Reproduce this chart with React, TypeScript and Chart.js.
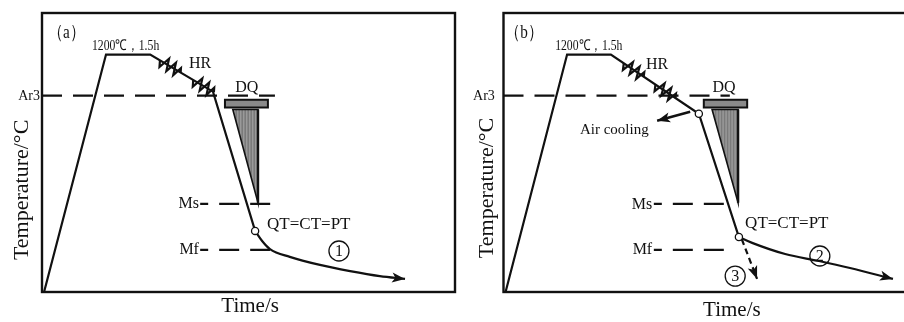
import React, { useEffect, useRef } from "react";
import { Chart, registerables } from "chart.js";
Chart.register(...registerables);

type P = { x: number; y: number };

const FONT = '"Liberation Serif", "Times New Roman", serif';
const INK = "#111";

// ---------- Panel (a) data ----------
const aProcess: P[] = [
  { x: 0.5, y: 0 }, { x: 15.5, y: 85.1 }, { x: 26.2, y: 85.1 }, { x: 41.4, y: 71.8 }, { x: 51.6, y: 21.9 },
];
const aResistorT = [0.32, 0.85];
const aCooling1: P[] = [
  { x: 51.6, y: 21.9 }, { x: 53.3, y: 18.3 }, { x: 55.2, y: 15.4 }, { x: 60.0, y: 12.6 },
  { x: 67.3, y: 9.7 }, { x: 74.6, y: 7.5 }, { x: 81.8, y: 5.7 }, { x: 87.9, y: 4.7 },
];
const aAr3: P[] = [{ x: 0, y: 70.4 }, { x: 56.4, y: 70.4 }];
const aMs: P[] = [{ x: 38.3, y: 31.6 }, { x: 55.7, y: 31.6 }];
const aMf: P[] = [{ x: 38.3, y: 15.1 }, { x: 55.2, y: 15.1 }];
const aCap: P[] = [{ x: 44.3, y: 66.1 }, { x: 54.7, y: 68.9 }];
const aWedge: P[] = [{ x: 46.2, y: 65.4 }, { x: 52.3, y: 65.4 }, { x: 52.3, y: 32.0 }];
const aMarkers: P[] = [{ x: 51.6, y: 21.9 }];

// ---------- Panel (b) data ----------
const bProcess: P[] = [
  { x: 0.5, y: 0 }, { x: 15.4, y: 85.1 }, { x: 26.0, y: 85.1 }, { x: 47.3, y: 63.9 }, { x: 57.0, y: 19.7 },
];
const bResistorT = [0.26, 0.62];
const bCooling2: P[] = [
  { x: 57.0, y: 19.7 }, { x: 60.2, y: 17.6 }, { x: 68.2, y: 13.6 }, { x: 76.4, y: 11.1 },
  { x: 83.9, y: 8.6 }, { x: 94.3, y: 4.7 },
];
const bCooling3: P[] = [{ x: 57.7, y: 18.9 }, { x: 61.4, y: 4.7 }];
const bAr3: P[] = [{ x: 0, y: 70.4 }, { x: 54.8, y: 70.4 }];
const bMs: P[] = [{ x: 36.4, y: 31.6 }, { x: 55.8, y: 31.6 }];
const bMf: P[] = [{ x: 36.4, y: 15.1 }, { x: 55.4, y: 15.1 }];
const bCap: P[] = [{ x: 48.5, y: 66.1 }, { x: 59.0, y: 68.9 }];
const bWedge: P[] = [{ x: 50.5, y: 65.4 }, { x: 56.8, y: 65.4 }, { x: 56.8, y: 32.0 }];
const bAirArrow: P[] = [{ x: 45.2, y: 64.6 }, { x: 37.2, y: 61.4 }];
const bMarkers: P[] = [{ x: 47.3, y: 63.9 }, { x: 57.0, y: 19.7 }];

type Txt = { t: string; x: number; y: number; size: number; align?: CanvasTextAlign; rot?: boolean; sx?: number };
type Circ = { t: string; x: number; y: number };

const aTexts: Txt[] = [
  { t: "（a）", x: 1.4, y: 93.0, size: 19, align: "left", sx: 0.8 },
  { t: "1200℃，1.5h", x: 12.1, y: 88.0, size: 15, align: "left", sx: 0.78 },
  { t: "HR", x: 35.6, y: 81.9, size: 16, align: "left" },
  { t: "DQ", x: 49.6, y: 73.2, size: 16, align: "center" },
  { t: "Ar3", x: -0.5, y: 70.0, size: 14, align: "right" },
  { t: "Ms", x: 38.0, y: 31.6, size: 16, align: "right" },
  { t: "Mf", x: 38.0, y: 15.1, size: 16, align: "right" },
  { t: "QT=CT=PT", x: 54.5, y: 24.1, size: 17, align: "left" },
  { t: "Time/s", x: 50.4, y: -5.2, size: 21, align: "center" },
  { t: "Temperature/°C", x: -4.8, y: 36.6, size: 22, align: "center", rot: true },
];
const aCircled: Circ[] = [{ t: "1", x: 71.9, y: 14.7 }];

const bTexts: Txt[] = [
  { t: "（b）", x: 0.4, y: 93.0, size: 19, align: "left", sx: 0.8 },
  { t: "1200℃，1.5h", x: 12.5, y: 88.0, size: 15, align: "left", sx: 0.78 },
  { t: "HR", x: 34.5, y: 81.5, size: 16, align: "left" },
  { t: "DQ", x: 53.4, y: 73.2, size: 16, align: "center" },
  { t: "Ar3", x: -2.1, y: 70.0, size: 14, align: "right" },
  { t: "Air cooling", x: 18.5, y: 58.2, size: 15, align: "left" },
  { t: "Ms", x: 36.0, y: 31.2, size: 16, align: "right" },
  { t: "Mf", x: 36.0, y: 15.1, size: 16, align: "right" },
  { t: "QT=CT=PT", x: 58.5, y: 24.4, size: 17, align: "left" },
  { t: "Time/s", x: 55.3, y: -6.8, size: 21, align: "center" },
  { t: "Temperature/°C", x: -4.0, y: 37.3, size: 22, align: "center", rot: true },
];
const bCircled: Circ[] = [
  { t: "2", x: 76.6, y: 12.9 },
  { t: "3", x: 56.1, y: 5.7 },
];

type PanelCfg = {
  process: P[];
  resistorT: number[];
  cap: P[];
  wedge: P[];
  arrows: P[][];
  texts: Txt[];
  circled: Circ[];
  datasets: any[];
  padding: { left: number; right: number; top: number; bottom: number };
};

function lineDs(data: P[], extra: any = {}) {
  return {
    data,
    showLine: true,
    borderColor: INK,
    backgroundColor: INK,
    borderWidth: 2.2,
    pointRadius: 0,
    fill: false,
    ...extra,
  };
}
function markerDs(data: P[]) {
  return {
    data,
    showLine: false,
    pointRadius: 3.6,
    pointStyle: "circle",
    pointBackgroundColor: "#fff",
    pointBorderColor: INK,
    pointBorderWidth: 1.3,
    order: -1,
  };
}

function overlay(cfg: PanelCfg) {
  const toPx = (c: any, p: P) => ({ x: c.scales.x.getPixelForValue(p.x), y: c.scales.y.getPixelForValue(p.y) });
  return {
    id: "overlay",
    beforeDatasetsDraw(c: any) {
      const ctx = c.ctx as CanvasRenderingContext2D;
      const w = cfg.wedge.map((p) => toPx(c, p));
      const tri = () => {
        ctx.beginPath();
        w.forEach((p, i) => (i ? ctx.lineTo(p.x, p.y) : ctx.moveTo(p.x, p.y)));
        ctx.closePath();
      };
      ctx.save();
      tri();
      ctx.fillStyle = "#7a7a7a";
      ctx.fill();
      ctx.save();
      tri();
      ctx.clip();
      ctx.strokeStyle = "#a8a8a8";
      ctx.lineWidth = 1;
      const minX = Math.min(...w.map((p) => p.x));
      const maxX = Math.max(...w.map((p) => p.x));
      const minY = Math.min(...w.map((p) => p.y));
      const maxY = Math.max(...w.map((p) => p.y));
      for (let x = minX + 2; x < maxX - 1; x += 3) {
        ctx.beginPath();
        ctx.moveTo(x, minY);
        ctx.lineTo(x, maxY);
        ctx.stroke();
      }
      ctx.restore();
      tri();
      ctx.strokeStyle = INK;
      ctx.lineWidth = 1.6;
      ctx.lineJoin = "miter";
      ctx.stroke();
      ctx.beginPath();
      ctx.moveTo(w[1].x, w[1].y);
      ctx.lineTo(w[2].x, w[2].y);
      ctx.lineWidth = 2.4;
      ctx.stroke();
      // cap
      const c0 = toPx(c, cfg.cap[0]);
      const c1 = toPx(c, cfg.cap[1]);
      ctx.beginPath();
      ctx.rect(c0.x, c1.y, c1.x - c0.x, c0.y - c1.y);
      ctx.fillStyle = "#8a8a8a";
      ctx.fill();
      ctx.lineWidth = 2;
      ctx.strokeStyle = INK;
      ctx.stroke();
      ctx.restore();
    },
    afterDatasetsDraw(c: any) {
      const ctx = c.ctx as CanvasRenderingContext2D;
      ctx.save();
      ctx.strokeStyle = INK;
      ctx.fillStyle = INK;
      // resistor zigzags on the hot-rolling segment
      const s0 = toPx(c, cfg.process[2]);
      const s1 = toPx(c, cfg.process[3]);
      const len = Math.hypot(s1.x - s0.x, s1.y - s0.y);
      const ux = (s1.x - s0.x) / len, uy = (s1.y - s0.y) / len;
      const nx = -uy, ny = ux;
      const along = [-12, -9, -5, -1, 3, 7, 10, 12];
      const perp = [0, 6, -6, 6, -6, 6, -4, 0];
      cfg.resistorT.forEach((t) => {
        const cx = s0.x + (s1.x - s0.x) * t;
        const cy = s0.y + (s1.y - s0.y) * t;
        ctx.beginPath();
        along.forEach((a, i) => {
          const x = cx + ux * a + nx * perp[i];
          const y = cy + uy * a + ny * perp[i];
          i ? ctx.lineTo(x, y) : ctx.moveTo(x, y);
        });
        ctx.lineWidth = 2.2;
        ctx.lineJoin = "miter";
        ctx.stroke();
      });
      // arrowheads
      cfg.arrows.forEach((s) => {
        const a = toPx(c, s[s.length - 2]);
        const b = toPx(c, s[s.length - 1]);
        const ang = Math.atan2(b.y - a.y, b.x - a.x);
        const L = 13, H = 5;
        ctx.beginPath();
        ctx.moveTo(b.x, b.y);
        ctx.lineTo(b.x - L * Math.cos(ang) + H * Math.sin(ang), b.y - L * Math.sin(ang) - H * Math.cos(ang));
        ctx.lineTo(b.x - L * 0.75 * Math.cos(ang), b.y - L * 0.75 * Math.sin(ang));
        ctx.lineTo(b.x - L * Math.cos(ang) - H * Math.sin(ang), b.y - L * Math.sin(ang) + H * Math.cos(ang));
        ctx.closePath();
        ctx.fill();
      });
      // circled numbers
      cfg.circled.forEach((n) => {
        const p = toPx(c, n);
        ctx.beginPath();
        ctx.arc(p.x, p.y, 10, 0, Math.PI * 2);
        ctx.lineWidth = 1.3;
        ctx.stroke();
        ctx.font = `16px ${FONT}`;
        ctx.textAlign = "center";
        ctx.textBaseline = "middle";
        ctx.fillText(n.t, p.x, p.y + 1);
      });
      // frame
      const ca = c.chartArea;
      ctx.lineWidth = 2.4;
      ctx.strokeStyle = INK;
      ctx.strokeRect(ca.left, ca.top, ca.right - ca.left, ca.bottom - ca.top);
      // texts
      cfg.texts.forEach((t) => {
        const p = toPx(c, t);
        ctx.font = `${t.size}px ${FONT}`;
        ctx.textAlign = t.align || "left";
        ctx.textBaseline = "middle";
        ctx.fillStyle = INK;
        ctx.save();
        ctx.translate(p.x, p.y);
        if (t.rot) ctx.rotate(-Math.PI / 2);
        if (t.sx) ctx.scale(t.sx, 1);
        ctx.fillText(t.t, 0, 0);
        ctx.restore();
      });
      ctx.restore();
    },
  };
}

function makeChart(canvas: HTMLCanvasElement, cfg: PanelCfg) {
  return new Chart(canvas, {
    type: "scatter",
    data: { datasets: cfg.datasets },
    options: {
      animation: false,
      responsive: false,
      events: [],
      layout: { padding: cfg.padding },
      plugins: { legend: { display: false }, tooltip: { enabled: false } },
      scales: {
        x: { type: "linear", min: 0, max: 100, display: false },
        y: { type: "linear", min: 0, max: 100, display: false },
      },
    } as any,
    plugins: [overlay(cfg) as any],
  });
}

const dashRef = { borderDash: [20, 11], borderWidth: 2.2 };

const panelA: PanelCfg = {
  process: aProcess,
  resistorT: aResistorT,
  cap: aCap,
  wedge: aWedge,
  arrows: [aCooling1],
  texts: aTexts,
  circled: aCircled,
  padding: { left: 42, right: 6, top: 13, bottom: 30 },
  datasets: [
    markerDs(aMarkers),
    lineDs(aProcess),
    lineDs(aCooling1, { cubicInterpolationMode: "monotone" }),
    lineDs(aAr3, dashRef),
    lineDs(aMs, { ...dashRef, borderDashOffset: 12 }),
    lineDs(aMf, { ...dashRef, borderDashOffset: 12 }),
  ],
};

const panelB: PanelCfg = {
  process: bProcess,
  resistorT: bResistorT,
  cap: bCap,
  wedge: bWedge,
  arrows: [bCooling2, bCooling3, bAirArrow],
  texts: bTexts,
  circled: bCircled,
  padding: { left: 42.5, right: 5.5, top: 13, bottom: 30 },
  datasets: [
    markerDs(bMarkers),
    lineDs(bProcess),
    lineDs(bCooling2, { cubicInterpolationMode: "monotone" }),
    lineDs(bCooling3, { borderDash: [6, 4], borderWidth: 2.2 }),
    lineDs(bAirArrow, { borderWidth: 2.6 }),
    lineDs(bAr3, dashRef),
    lineDs(bMs, { ...dashRef, borderDashOffset: 12 }),
    lineDs(bMf, { ...dashRef, borderDashOffset: 12 }),
  ],
};

export default function App() {
  const refA = useRef<HTMLCanvasElement>(null);
  const refB = useRef<HTMLCanvasElement>(null);
  useEffect(() => {
    const ca = makeChart(refA.current!, panelA);
    const cb = makeChart(refB.current!, panelB);
    return () => {
      ca.destroy();
      cb.destroy();
    };
  }, []);
  return (
    <div
      style={{
        position: "fixed",
        left: 0,
        top: 0,
        width: 904,
        height: 322,
        overflow: "hidden",
        background: "#fff",
      }}
    >
      <canvas
        ref={refA}
        width={461}
        height={322}
        style={{ position: "absolute", left: 0, top: 0, width: 461, height: 322 }}
      />
      <canvas
        ref={refB}
        width={461}
        height={322}
        style={{ position: "absolute", left: 461, top: 0, width: 461, height: 322 }}
      />
    </div>
  );
}
